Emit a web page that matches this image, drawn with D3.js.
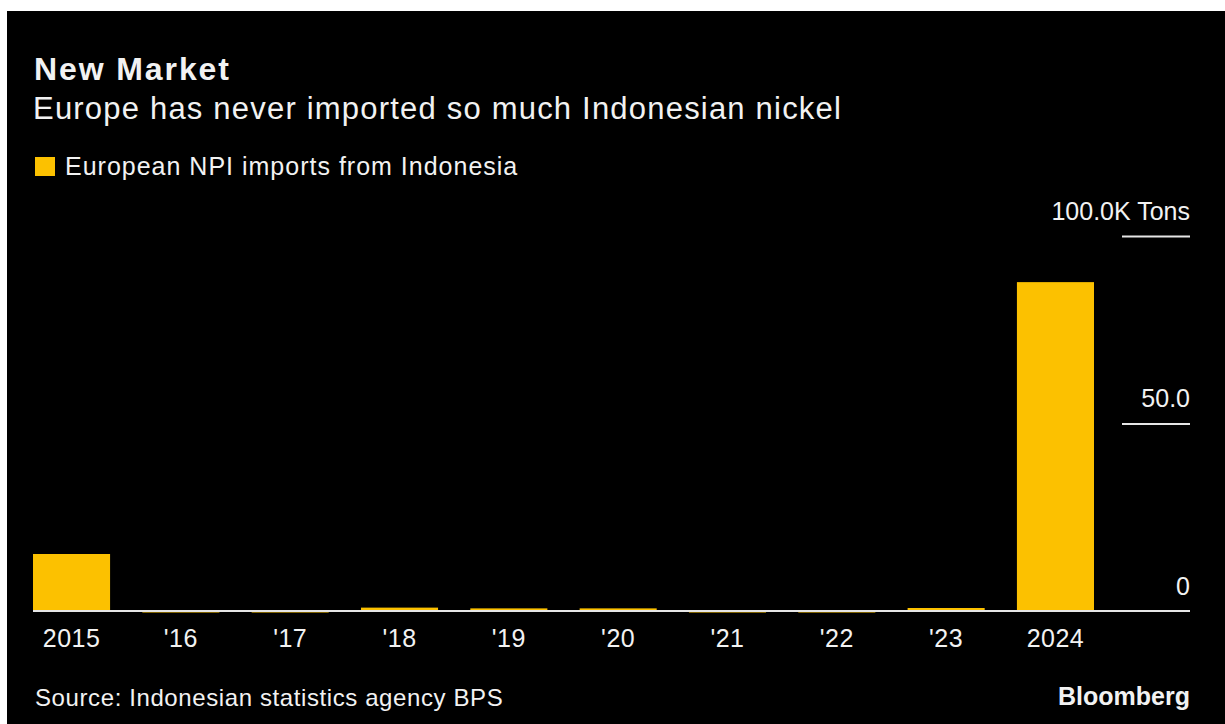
<!DOCTYPE html>
<html>
<head>
<meta charset="utf-8">
<script src="https://cdn.jsdelivr.net/npm/d3@7"></script>
<style>
  html, body { margin: 0; padding: 0; background: #fff; }
  svg { display: block; }
  text { font-family: "Liberation Sans", Arial, sans-serif; fill: #f2f2f2; }
</style>
</head>
<body>
<div id="chart"></div>
<script>
// categories and values (thousand tons)
const years = ['2015', "'16", "'17", "'18", "'19", "'20", "'21", "'22", "'23", '2024']
const imports = [15.2, -0.4, -0.4, 0.9, 0.7, 0.7, -0.4, -0.4, 0.8, 87.7]
const tickValues = [0, 50, 100]
const tickLabels = ['0', '50.0', '100.0K Tons']

const width = 1225, height = 724

let svg = d3.select('#chart').append('svg')
    .attr('width', width)
    .attr('height', height)

// black card, the picture has a thin white edge top and left
svg.append('rect')
    .attr('x', 7).attr('y', 11)
    .attr('width', width - 7).attr('height', height - 11)
    .attr('fill', '#000')

let x = d3.scaleBand()
    .domain(years)
    .range([33, 1094])
    .paddingInner(0.295)
    .paddingOuter(0)

let y = d3.scaleLinear()
    .domain([0, 100])
    .range([611, 236])

// headings (the original font is wider, so a bit of letter spacing)
svg.append('text')
    .attr('x', 34).attr('y', 80)
    .style('font-size', '32px').style('font-weight', 'bold')
    .style('letter-spacing', '1.9px')
    .text('New Market')
svg.append('text')
    .attr('x', 33).attr('y', 119)
    .style('font-size', '31px')
    .style('letter-spacing', '1.2px')
    .text('Europe has never imported so much Indonesian nickel')

// legend
svg.append('rect')
    .attr('x', 35).attr('y', 157)
    .attr('width', 20).attr('height', 19)
    .attr('fill', '#fcc100')
svg.append('text')
    .attr('x', 65).attr('y', 175)
    .style('font-size', '25px')
    .style('letter-spacing', '1px')
    .text('European NPI imports from Indonesia')

// bars
svg.selectAll('rect.bar')
    .data(years.map((d, i) => ({year: d, value: imports[i]})))
    .enter().append('rect')
    .attr('class', 'bar')
    .attr('x', d => x(d.year))
    .attr('width', x.bandwidth())
    .attr('y', d => y(Math.max(0, d.value)))
    .attr('height', d => Math.abs(y(d.value) - y(0)))
    .attr('fill', '#fcc100')

// y axis on the right, short gridlines above the labels
let yAxis = d3.axisRight(y)
    .tickValues(tickValues)
    .tickFormat((d, i) => tickLabels[i])
    .tickSize(0)

let yg = svg.append('g')
    .attr('transform', 'translate(1190,0)')
    .call(yAxis)
yg.select('.domain').remove()
yg.selectAll('.tick text')
    .attr('x', 0).attr('dy', -17)
    .attr('text-anchor', 'end')
    .style('font-size', '25px')
    .style('fill', '#f2f2f2')
yg.selectAll('.tick').filter(d => d !== 0)
    .append('line')
    .attr('x1', -68).attr('x2', 0)
    .attr('stroke', '#e6e6e6').attr('stroke-width', 2)

// zero line
svg.append('line')
    .attr('x1', 33).attr('x2', 1190)
    .attr('y1', y(0)).attr('y2', y(0))
    .attr('stroke', '#e6e6e6').attr('stroke-width', 2)

// x axis labels
let xAxis = d3.axisBottom(x).tickSize(0)
let xg = svg.append('g')
    .attr('transform', 'translate(0,' + y(0) + ')')
    .call(xAxis)
xg.select('.domain').remove()
xg.selectAll('.tick text')
    .attr('y', 36).attr('dy', 0)
    .style('font-size', '25px')
    .style('letter-spacing', '0.5px')
    .style('fill', '#f2f2f2')

// footer
svg.append('text')
    .attr('x', 35).attr('y', 706)
    .style('font-size', '24px')
    .style('letter-spacing', '0.6px')
    .text('Source: Indonesian statistics agency BPS')
svg.append('text')
    .attr('x', 1190).attr('y', 705)
    .attr('text-anchor', 'end')
    .style('font-size', '25px').style('font-weight', 'bold')
    .text('Bloomberg')
</script>
</body>
</html>
